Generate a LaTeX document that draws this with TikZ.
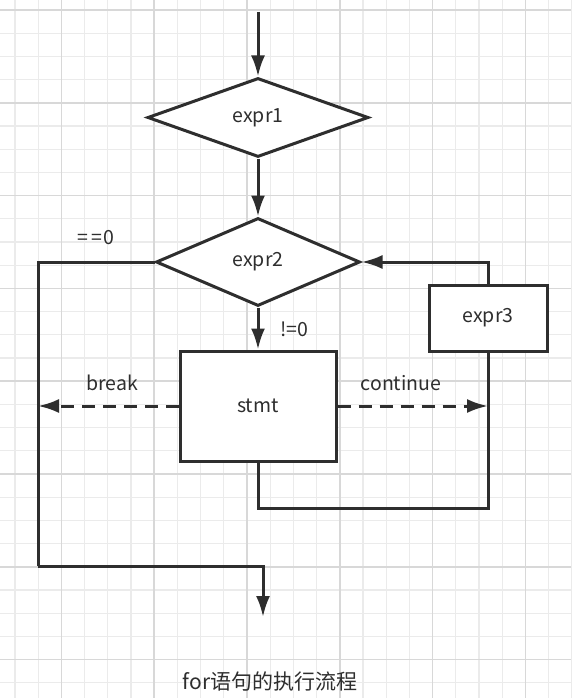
\documentclass[tikz,border=0pt]{standalone}
\usepackage{fontspec}
\setmainfont{Noto Sans CJK SC}
\usetikzlibrary{shapes.geometric, arrows.meta}

\definecolor{ink}{HTML}{2E2E2E}
\definecolor{gridminor}{HTML}{EBEBEB}
\definecolor{gridmajor}{HTML}{D8D8D8}

\begin{document}
\begin{tikzpicture}[x=1pt, y=-1pt,
		line width=3pt, draw=ink, text=ink,
		arr/.style={-{Latex[length=21pt,width=14pt]}},
		dsh/.style={dashed, dash pattern=on 13pt off 8pt},
		dia/.style={diamond, draw, aspect=2.6, inner sep=0pt, font=\fontsize{19.5}{22}\selectfont},
		box/.style={rectangle, draw, inner sep=0pt, font=\fontsize{19.5}{22}\selectfont},
		lbl/.style={font=\fontsize{19.5}{22}\selectfont, inner sep=0pt}]
					\useasboundingbox (0,0) rectangle (571,698);
					\fill[white] (0,0) rectangle (571,698);

					%% grid
					\foreach \i in {0,...,24}
						\draw[gridminor, line width=1.3pt] ({15+23.2*\i},0) -- ({15+23.2*\i},698);
					\foreach \i in {0,...,29}
						\draw[gridminor, line width=1.3pt] (0,{10+23.2*\i}) -- (571,{10+23.2*\i});
					\foreach \i in {0,...,5}
						\draw[gridmajor, line width=1.5pt] ({61.4+92.8*\i},0) -- ({61.4+92.8*\i},698);
					\foreach \i in {0,...,7}
						\draw[gridmajor, line width=1.5pt] (0,{10+92.8*\i}) -- (571,{10+92.8*\i});

					\node[dia, fill=white, minimum width=221pt, minimum height=79pt] (e1) at (258,117.5) {expr1};
					\node[dia, fill=white, minimum width=204pt, minimum height=88pt] (e2) at (258,262) {expr2};
					\node[box, fill=white, minimum width=156pt, minimum height=110pt] (st) at (258,406) {stmt};
					\node[box, fill=white, minimum width=118pt, minimum height=66pt] (e3) at (488,318) {expr3};

					\coordinate (start) at (258,12);
					\coordinate (l2) at (38,566);
					\coordinate (out) at (263,617);
					\coordinate (b) at (488,508);

					\draw[arr] (start) -- (e1.north);
					\draw[arr] (e1.south) -- (e2.north);
					\draw[arr] (e2.south) -- (st.north);
					\draw (e2.west) -| (l2);
					\draw[arr] (l2) -| (out);
					\draw[arr, dsh] (st.west) -- (st.west -| l2);
					\draw[arr, dsh] (st.east) -- (st.east -| b);
					\draw (st.south) |- (b) -- (e3.south);
					\draw[arr] (e3.north) |- (e2.east);

					%% labels
					\node[lbl] (eq) at (96,238) {=\kern3pt=\kern2pt0};
					\node[lbl] (ne) at (294,329) {!=0};
					\node[lbl] (brk) at (112,383) {break};
					\node[lbl] (cnt) at (401,383) {continue};
					\node[lbl, font=\fontsize{21}{24}\selectfont] (cap) at (270,682) {for语句的执行流程};
				\end{tikzpicture}
\end{document}
